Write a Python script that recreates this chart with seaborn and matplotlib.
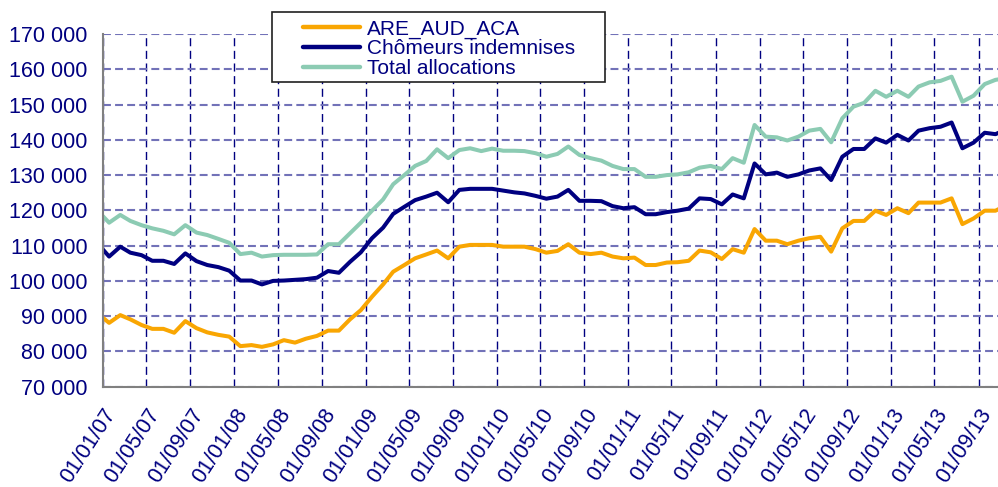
import pandas as pd
import numpy as np
import matplotlib
matplotlib.use('Agg')
import matplotlib.pyplot as plt
import matplotlib.patches as mpatches
from matplotlib.lines import Line2D
import seaborn as sns

# -----------------------------------------------------------
# Data (thousands), one value per month, Dec 2006 -> Nov 2013
# -----------------------------------------------------------
months = pd.date_range('2006-12-01', periods=84, freq='MS') + pd.Timedelta(days=17)

are_aud_aca = [
    90.7, 88.1, 90.3, 89.1, 87.5, 86.4, 86.4, 85.3, 88.6, 86.6, 85.4, 84.7,
    84.2, 81.5, 81.8, 81.3, 82.0, 83.2, 82.5, 83.6, 84.4, 85.9, 85.9, 89.1,
    91.7, 95.5, 99.0, 102.6, 104.5, 106.4, 107.5, 108.6, 106.4, 109.7, 110.2, 110.2,
    110.2, 109.7, 109.7, 109.7, 109.0, 108.0, 108.5, 110.4, 108.0, 107.6, 108.0, 106.9,
    106.4, 106.6, 104.5, 104.5, 105.2, 105.3, 105.7, 108.6, 108.1, 106.2, 109.0, 108.0,
    114.7, 111.4, 111.4, 110.4, 111.4, 112.1, 112.5, 108.3, 114.9, 117.0, 117.0, 119.9,
    118.7, 120.6, 119.2, 122.2, 122.2, 122.2, 123.4, 116.1, 117.7, 119.9, 119.9, 121.5,
]
chomeurs = [
    110.5, 106.9, 109.7, 108.0, 107.3, 105.7, 105.7, 104.8, 107.8, 105.6, 104.5, 103.9,
    102.9, 100.1, 100.1, 99.0, 100.0, 100.1, 100.3, 100.5, 100.9, 102.8, 102.3, 105.4,
    108.1, 112.1, 115.1, 119.0, 121.0, 122.9, 123.9, 125.0, 122.3, 125.8, 126.1, 126.1,
    126.1, 125.6, 125.1, 124.8, 124.1, 123.3, 123.9, 125.8, 122.7, 122.7, 122.6, 121.2,
    120.6, 120.9, 118.9, 118.9, 119.5, 119.9, 120.5, 123.4, 123.2, 121.7, 124.5, 123.4,
    133.3, 130.2, 130.7, 129.5, 130.2, 131.3, 131.9, 128.6, 135.2, 137.4, 137.4, 140.4,
    139.2, 141.4, 139.8, 142.6, 143.3, 143.7, 144.9, 137.6, 139.2, 142.0, 141.6, 143.0,
]
total_alloc = [
    119.8, 116.5, 118.7, 117.0, 115.8, 114.9, 114.2, 113.2, 115.8, 113.7, 113.0, 111.9,
    110.8, 107.6, 108.0, 106.9, 107.3, 107.4, 107.4, 107.4, 107.5, 110.4, 110.4, 113.5,
    116.5, 119.9, 123.1, 127.4, 130.0, 132.6, 134.0, 137.3, 134.8, 137.1, 137.6, 136.8,
    137.5, 136.9, 136.9, 136.8, 136.2, 135.2, 136.0, 138.1, 135.7, 134.8, 134.1, 132.6,
    131.7, 131.7, 129.5, 129.5, 130.0, 130.2, 130.8, 132.1, 132.6, 131.7, 134.8, 133.5,
    144.2, 140.9, 140.7, 139.8, 140.9, 142.6, 143.1, 139.3, 146.1, 149.4, 150.5, 153.9,
    152.2, 153.9, 152.2, 155.1, 156.3, 156.7, 157.9, 150.8, 152.5, 155.8, 157.0, 157.5,
]

series_names = ['ARE_AUD_ACA', 'Chômeurs indemnises', 'Total allocations']
series_colors = ['#F9A602', '#000080', '#8CCBB3']
y_ticks = list(range(70000, 170001, 10000))
x_ticks = pd.date_range('2007-01-01', '2013-09-01', freq='4MS')

df = pd.DataFrame({
    'date': np.tile(months, 3),
    'value': np.concatenate([are_aud_aca, chomeurs, total_alloc]) * 1000,
    'serie': np.repeat(series_names, len(months)),
})

# -----------------------------------------------------------
# Style
# -----------------------------------------------------------
sns.set_style('white')
plt.rcParams['font.family'] = ['Liberation Sans', 'DejaVu Sans']

fig = plt.figure(figsize=(9.98, 4.87), dpi=100)
ax = fig.add_axes([103 / 998, 1 - 386.7 / 487, 1 - 103 / 998, (386.7 - 34) / 487])

sns.lineplot(data=df, x='date', y='value', hue='serie', hue_order=series_names,
             palette=series_colors, linewidth=2.9, legend=False, ax=ax)

ax.set_ylim(70000, 170000)
ax.set_xlim(pd.Timestamp('2007-01-01'), pd.Timestamp('2013-10-25'))
ax.set_yticks(y_ticks)
ax.set_yticklabels([f'{v:,}'.replace(',', ' ') for v in y_ticks])
ax.set_xticks(x_ticks)
ax.set_xticklabels([d.strftime('%d/%m/%y') for d in x_ticks],
                   rotation=57, ha='right', rotation_mode='anchor')
ax.set_xlabel('')
ax.set_ylabel('')

ax.tick_params(axis='both', colors='#808080', labelcolor='#000080', labelsize=15.5,
               length=4, width=1.5, direction='out')
ax.tick_params(axis='x', pad=9)
ax.tick_params(axis='y', pad=7)

ax.set_axisbelow(True)
ax.yaxis.grid(True, color='#7272B8', linestyle=(0, (3.8, 2.0)), linewidth=1.5)
ax.xaxis.grid(True, color='#000080', linestyle=(0, (5.8, 3.3)), linewidth=1.0)

for side in ['top', 'right']:
    ax.spines[side].set_visible(False)
for side in ['left', 'bottom']:
    ax.spines[side].set_color('#808080')
    ax.spines[side].set_linewidth(1.5)

# -----------------------------------------------------------
# Legend box
# -----------------------------------------------------------
box = mpatches.Rectangle((272 / 998, 1 - 82 / 487), 333 / 998, 70 / 487,
                         transform=fig.transFigure, facecolor='white',
                         edgecolor='#202020', linewidth=1.2, zorder=4)
fig.patches.append(box)

handles = [Line2D([], [], color=c, linewidth=3.2) for c in series_colors]
leg = fig.legend(handles, series_names, loc='upper left',
                 bbox_to_anchor=(303 / 998, 1 - 19.5 / 487), frameon=False,
                 fontsize=15, handlelength=2.75, handletextpad=0.3,
                 labelspacing=0.03, borderpad=0, borderaxespad=0)
for t in leg.get_texts():
    t.set_color('#000080')
leg.set_zorder(5)

plt.savefig('out.png', dpi=100)
